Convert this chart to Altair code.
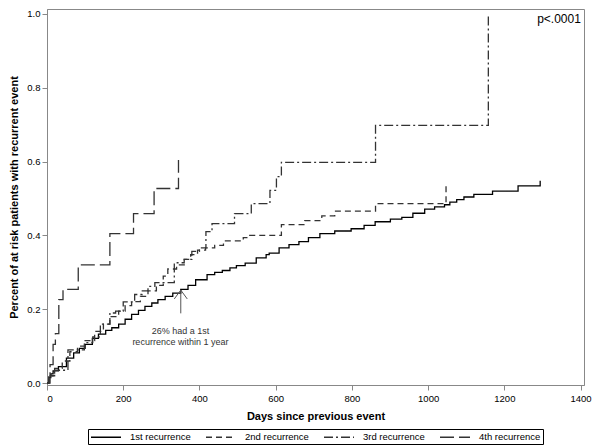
import altair as alt
import pandas as pd

# ---------------- data ----------------
series_names = ["1st recurrence", "2nd recurrence", "3rd recurrence", "4th recurrence"]

first_days = [0, 5, 10, 16, 30, 51, 70, 85, 100, 119, 135, 154, 170, 188, 205, 222,
              240, 257, 275, 291, 310, 330, 351, 370, 390, 420, 440, 460, 480, 497,
              520, 549, 575, 583, 609, 635, 661, 686, 716, 755, 798, 832, 861, 901,
              931, 960, 991, 1017, 1043, 1057, 1075, 1094, 1120, 1169, 1236, 1294]
first_vals = [0, 0.015, 0.025, 0.033, 0.045, 0.068, 0.082, 0.094, 0.105, 0.121, 0.133,
              0.143, 0.150, 0.160, 0.173, 0.186, 0.197, 0.208, 0.217, 0.226, 0.235,
              0.244, 0.254, 0.265, 0.280, 0.294, 0.300, 0.305, 0.312, 0.318, 0.325,
              0.339, 0.348, 0.352, 0.366, 0.375, 0.383, 0.394, 0.405, 0.412, 0.418,
              0.427, 0.437, 0.444, 0.449, 0.460, 0.471, 0.477, 0.483, 0.490, 0.497,
              0.504, 0.511, 0.520, 0.534, 0.548]

second_days = [0, 5, 20, 40, 60, 80, 100, 125, 148, 165, 188, 205, 222, 245, 265, 287,
               305, 317, 340, 360, 377, 395, 416, 440, 463, 515, 532, 615, 676, 721,
               755, 862, 1047]
second_vals = [0, 0.02, 0.04, 0.06, 0.085, 0.10, 0.115, 0.14, 0.16, 0.18, 0.195, 0.21,
               0.221, 0.235, 0.25, 0.265, 0.29, 0.309, 0.32, 0.335, 0.348, 0.36, 0.366,
               0.373, 0.385, 0.394, 0.40, 0.429, 0.44, 0.453, 0.466, 0.486, 0.534]

third_days = [0, 5, 20, 55, 98, 120, 140, 165, 180, 200, 230, 250, 265, 283, 334, 360,
              380, 400, 417, 433, 492, 536, 585, 602, 615, 862, 1158]
third_vals = [0, 0.02, 0.035, 0.09, 0.11, 0.125, 0.16, 0.19, 0.195, 0.22, 0.24, 0.25,
              0.262, 0.272, 0.326, 0.335, 0.357, 0.366, 0.41, 0.432, 0.459, 0.486,
              0.522, 0.559, 0.598, 0.698, 1.0]

fourth_days = [0, 8, 16, 22, 31, 42, 82, 165, 227, 281, 345]
fourth_vals = [0, 0.05, 0.105, 0.134, 0.226, 0.254, 0.32, 0.405, 0.459, 0.527, 0.604]

x_ticks = [0, 200, 400, 600, 800, 1000, 1200, 1400]
y_ticks = [0.0, 0.2, 0.4, 0.6, 0.8, 1.0]

p_text = ["p<.0001"]
note_day = [350]
note_pct = [0.141]
note_text = ["26% had a 1st\nrecurrence within 1 year"]
arrow_day = [351]
arrow_base = [0.189]
arrow_tip = [0.252]
arrow_wing_day = [334, 368]
arrow_wing_pct = [0.228, 0.228]

# ---------------- tables ----------------
rows = []
for name, days, vals in zip(series_names,
                            [first_days, second_days, third_days, fourth_days],
                            [first_vals, second_vals, third_vals, fourth_vals]):
    for d, v in zip(days, vals):
        rows.append({"series": name, "day": d, "pct": v})
df = pd.DataFrame(rows)

note_df = pd.DataFrame({"day": note_day, "pct": note_pct, "text": note_text})
shaft_df = pd.DataFrame({"day": arrow_day, "y1": arrow_base, "y2": arrow_tip})
wing_df = pd.DataFrame({"day": arrow_day * 2, "tip": arrow_tip * 2,
                        "wday": arrow_wing_day, "wpct": arrow_wing_pct})
p_df = pd.DataFrame({"label": p_text})

FONT = "Liberation Sans"
x_scale = alt.Scale(domain=[0, 1409], nice=False, zero=False)
y_scale = alt.Scale(domain=[-0.005, 1.013], nice=False, zero=False)

legend_props = dict(
    title=None, orient="none", legendX=41, legendY=420, direction="horizontal",
    columns=4, symbolType="M-1,0H5", symbolSize=100, symbolStrokeWidth=1.3,
    labelFont=FONT, labelFontSize=9.5, labelColor="#000", labelOffset=28,
    columnPadding=12, strokeColor="#000", padding=2, labelLimit=200,
)

lines = alt.Chart(df).mark_line(interpolate="step-after", strokeWidth=1.3).encode(
    x=alt.X("day:Q", scale=x_scale,
            axis=alt.Axis(title="Days since previous event", values=x_ticks,
                          format="d", labelPadding=3, titlePadding=8)),
    y=alt.Y("pct:Q", scale=y_scale,
            axis=alt.Axis(title="Percent of at risk patients with recurrent event",
                          values=y_ticks, format=".1f", labelPadding=2, titlePadding=7)),
    color=alt.Color("series:N",
                    scale=alt.Scale(domain=series_names,
                                    range=["#000000", "#333333", "#333333", "#333333"]),
                    legend=alt.Legend(**legend_props)),
    strokeDash=alt.StrokeDash("series:N",
                              scale=alt.Scale(domain=series_names,
                                              range=[[1, 0], [6, 4], [9, 3, 2, 3], [14, 5]]),
                              legend=alt.Legend(**legend_props)),
)

note = alt.Chart(note_df).mark_text(
    font=FONT, fontSize=9, lineBreak="\n", lineHeight=11, color="#333", align="center",
    baseline="middle"
).encode(x=alt.X("day:Q", scale=x_scale), y=alt.Y("pct:Q", scale=y_scale), text="text:N")

shaft = alt.Chart(shaft_df).mark_rule(color="#555", strokeWidth=1).encode(
    x=alt.X("day:Q", scale=x_scale), y=alt.Y("y1:Q", scale=y_scale), y2="y2:Q")

wings = alt.Chart(wing_df).mark_rule(color="#555", strokeWidth=1).encode(
    x=alt.X("day:Q", scale=x_scale), x2="wday:Q",
    y=alt.Y("tip:Q", scale=y_scale), y2="wpct:Q")

ptext = alt.Chart(p_df).mark_text(font=FONT, fontSize=12, color="#000", align="center",
                                  baseline="middle").encode(
    x=alt.value(512), y=alt.value(10), text="label:N")

chart = alt.layer(lines, note, shaft, wings, ptext).properties(
    width=537, height=376, padding=0
).configure_view(stroke="#888", strokeWidth=1).configure_axis(
    domainColor="#888", tickColor="#888", labelColor="#000", titleColor="#000",
    labelFont=FONT, titleFont=FONT, labelFontSize=9.5, titleFontSize=11,
    titleFontWeight="bold", grid=False, tickSize=5
)

chart.save("out.html", embed_options={"renderer": "svg", "actions": False})
